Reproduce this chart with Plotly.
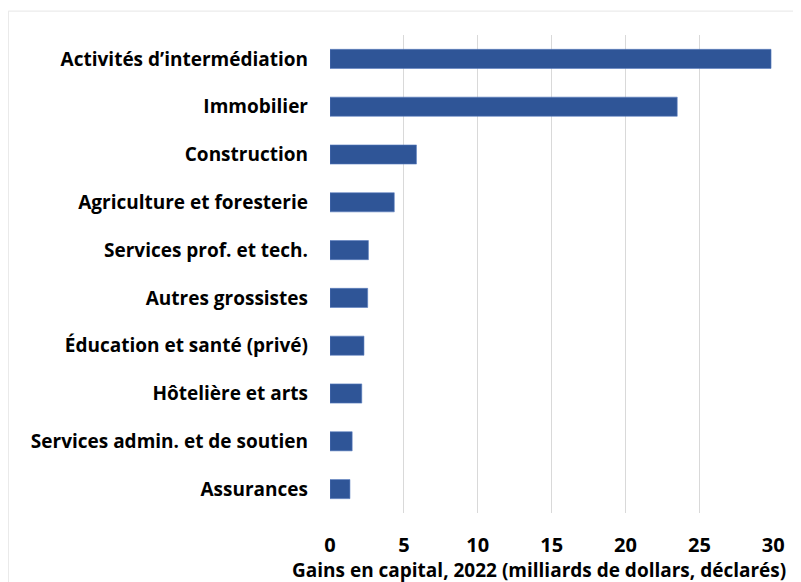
import plotly.graph_objects as go

categories = [
    "Activités d’intermédiation",
    "Immobilier",
    "Construction",
    "Agriculture et foresterie",
    "Services prof. et tech.",
    "Autres grossistes",
    "Éducation et santé (privé)",
    "Hôtelière et arts",
    "Services admin. et de soutien",
    "Assurances",
]
gains = [29.85, 23.5, 5.85, 4.35, 2.6, 2.55, 2.3, 2.15, 1.5, 1.35]

x_ticks = [0, 5, 10, 15, 20, 25, 30]
x_title = "Gains en capital, 2022 (milliards de dollars, déclarés)"

font_name = "Open Sans, sans-serif"

fig = go.Figure()
fig.add_trace(go.Bar(
    x=gains,
    y=categories,
    orientation="h",
    width=0.4,
    marker=dict(color="#2F5597", line=dict(color="#5B7DBF", width=0.6)),
))

# the page adds an 8px body margin, so the margins are shifted by that much
fig.update_layout(
    width=801,
    height=582,
    margin=dict(l=322, r=35, t=27, b=77),
    paper_bgcolor="white",
    plot_bgcolor="white",
    showlegend=False,
    font=dict(family=font_name, color="black"),
)

fig.update_xaxes(
    range=[0, 30.05],
    tickvals=x_ticks,
    ticktext=[str(t) for t in x_ticks],
    showgrid=True,
    gridcolor="#D9D9D9",
    gridwidth=1,
    zeroline=False,
    showline=False,
    automargin=False,
    tickfont=dict(size=20, family=font_name, weight="bold"),
    ticklabelstandoff=18,
)

fig.update_yaxes(
    categoryorder="array",
    categoryarray=categories[::-1],
    showgrid=False,
    zeroline=False,
    showline=False,
    automargin=False,
    tickfont=dict(size=19, family=font_name, weight="bold"),
    ticklabelstandoff=21,
)

# axis title as annotation: it sits left of the plot centre in the original
fig.add_annotation(
    text=x_title,
    xref="paper", yref="paper",
    x=0.471, y=-0.119,
    xanchor="center", yanchor="middle",
    showarrow=False,
    font=dict(size=19, family=font_name, weight="bold", color="black"),
)

# light frame round the chart
fig.add_shape(
    type="rect",
    xref="paper", yref="paper",
    x0=-0.7245, x1=1.1, y0=-0.2, y1=1.05,
    line=dict(color="#E6E6E6", width=1),
    fillcolor="rgba(0,0,0,0)",
    layer="below",
)

fig.write_html("out.html")
